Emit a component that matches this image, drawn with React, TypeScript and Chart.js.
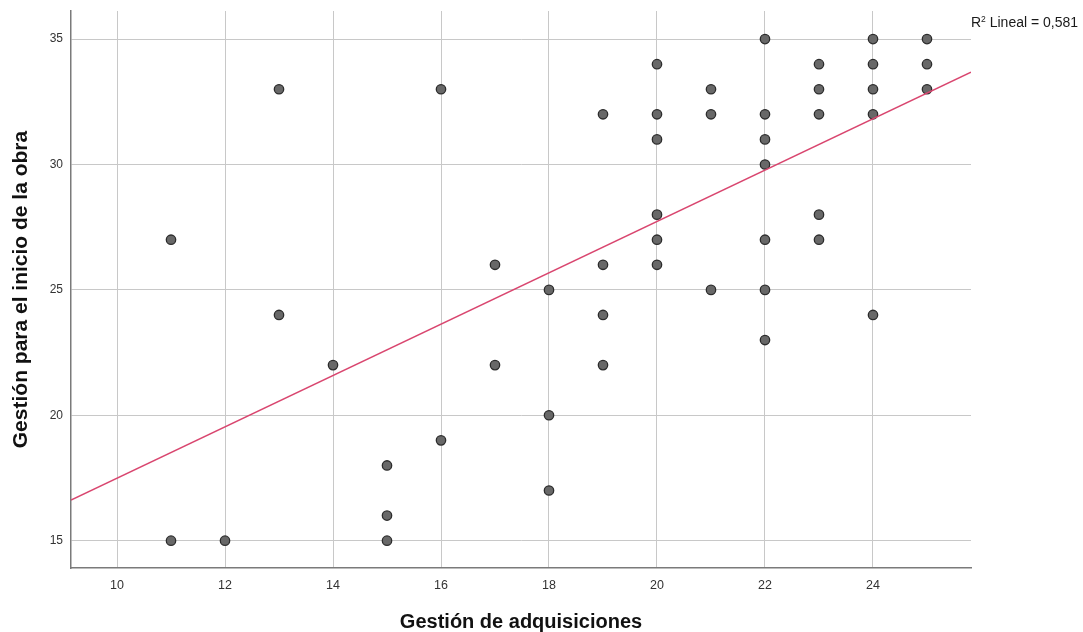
import React, { useEffect, useRef } from "react";
import { Chart, registerables } from "chart.js";

Chart.register(...registerables);

// Gestión de adquisiciones (x) and Gestión para el inicio de la obra (y)
const xValues = [
  11, 11, 12, 13, 13, 14, 15, 15, 15, 16, 16, 17, 17, 18, 18, 18,
  19, 19, 19, 19, 20, 20, 20, 20, 20, 20, 21, 21, 21,
  22, 22, 22, 22, 22, 22, 22, 23, 23, 23, 23, 23,
  24, 24, 24, 24, 24, 25, 25, 25,
];
const yValues = [
  27, 15, 15, 33, 24, 22, 18, 16, 15, 33, 19, 26, 22, 25, 20, 17,
  32, 26, 24, 22, 34, 32, 31, 28, 27, 26, 33, 32, 25,
  35, 32, 31, 30, 27, 25, 23, 34, 33, 32, 28, 27,
  35, 34, 33, 32, 24, 35, 34, 33,
];
const xTicks = [10, 12, 14, 16, 18, 20, 22, 24];
const yTicks = [15, 20, 25, 30, 35];
const xRange = [9.148, 25.815];
const yRange = [13.91, 36.12];
const fitIntercept = 7.256;
const fitSlope = 1.0236;
const rSquaredText = "0,581";

const FONT = '"Liberation Sans", Arial, Helvetica, sans-serif';

export default function App() {
  const ref = useRef<HTMLCanvasElement>(null);

  useEffect(() => {
    const canvas = ref.current;
    if (!canvas) return;
    const points = xValues.map((x, i) => ({ x, y: yValues[i] }));
    const fitLine = xRange.map((x) => ({ x, y: fitIntercept + fitSlope * x }));

    const r2Plugin = {
      id: "r2label",
      afterDraw(chart: any) {
        const c = chart.ctx as CanvasRenderingContext2D;
        c.save();
        c.fillStyle = "#1a1a1a";
        c.textBaseline = "alphabetic";
        c.textAlign = "left";
        let x = chart.chartArea.right;
        const y = 27;
        c.font = `14px ${FONT}`;
        c.fillText("R", x, y);
        x += c.measureText("R").width;
        c.font = `8.5px ${FONT}`;
        c.fillText("2", x, y - 5.5);
        x += c.measureText("2").width;
        c.font = `14px ${FONT}`;
        c.fillText(" Lineal = " + rSquaredText, x, y);
        c.restore();
      },
    };

    const chart = new Chart(canvas, {
      type: "scatter",
      data: {
        datasets: [
          {
            label: "Lineal",
            data: fitLine,
            showLine: true,
            borderColor: "#d9466f",
            borderWidth: 1.5,
            pointRadius: 0,
            order: 0,
          },
          {
            label: "Observado",
            data: points,
            pointRadius: 4.7,
            pointBackgroundColor: "#686868",
            pointBorderColor: "#2c2c2c",
            pointBorderWidth: 1.3,
            order: 1,
          },
        ],
      },
      options: {
        animation: false,
        responsive: true,
        maintainAspectRatio: false,
        layout: { padding: { top: 11, right: 112, left: 0, bottom: 0 } },
        plugins: {
          legend: { display: false },
          tooltip: { enabled: false },
        },
        scales: {
          x: {
            type: "linear",
            min: xRange[0],
            max: xRange[1],
            afterBuildTicks: (s: any) => {
              s.ticks = xTicks.map((v) => ({ value: v }));
            },
            afterFit: (s: any) => {
              s.height = 64;
              s.paddingLeft = 0;
              s.paddingRight = 0;
            },
            grid: { color: "#c8c8c8", lineWidth: 1, drawTicks: false },
            border: { color: "#7a7a7a", width: 1.5 },
            ticks: {
              padding: 10,
              color: "#333333",
              font: { size: 12.5, family: FONT },
            },
            title: {
              display: true,
              text: "Gestión de adquisiciones",
              color: "#111111",
              font: { size: 20, weight: "bold", family: FONT, lineHeight: 1 },
              padding: { top: 0, bottom: 0 },
            },
          },
          y: {
            type: "linear",
            min: yRange[0],
            max: yRange[1],
            afterBuildTicks: (s: any) => {
              s.ticks = yTicks.map((v) => ({ value: v }));
            },
            afterFit: (s: any) => {
              s.width = 71;
              s.paddingTop = 0;
              s.paddingBottom = 0;
            },
            grid: { color: "#c8c8c8", lineWidth: 1, drawTicks: false },
            border: { color: "#7a7a7a", width: 1.5 },
            ticks: {
              padding: 8,
              color: "#333333",
              font: { size: 12, family: FONT },
            },
            title: {
              display: true,
              text: "Gestión para el inicio de la obra",
              color: "#111111",
              font: { size: 21, weight: "bold", family: FONT, lineHeight: 1 },
              padding: { top: 11, bottom: 0 },
            },
          },
        },
      },
      plugins: [r2Plugin],
    } as any);

    return () => chart.destroy();
  }, []);

  return (
    <div style={{ position: "absolute", left: 0, top: 0, width: 1083, height: 632 }}>
      <canvas ref={ref} />
    </div>
  );
}
